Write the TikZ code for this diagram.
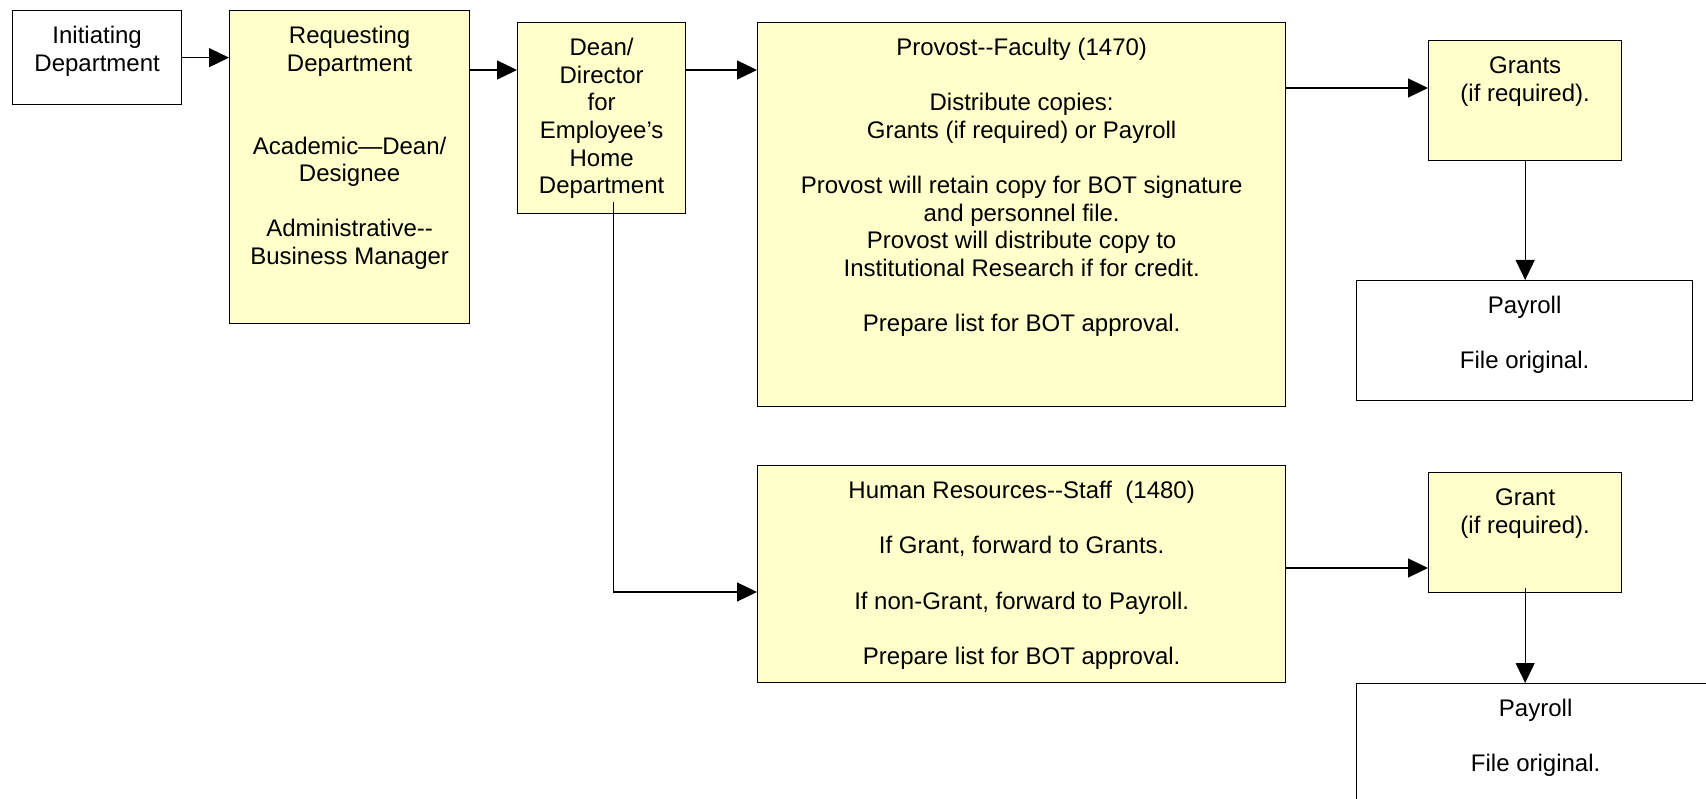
\documentclass[tikz,border=0pt]{standalone}
\usepackage{fontspec}
\setmainfont{Liberation Sans}
\usepackage{tikz}
\usetikzlibrary{arrows.meta}
\definecolor{notefill}{HTML}{FFFFCC}
\newcommand{\twohyph}{-\kern0pt-}
\newcommand{\boxlines}[3]{\parbox[c][#2][t]{#1}{\centering\rule{0pt}{33pt}#3}}
\tikzset{
  plainbox/.style={draw, line width=1.3pt, inner sep=0pt, anchor=north west, fill=white},
  notebox/.style={plainbox, fill=notefill},
  flow/.style={line width=1.2pt, -{Triangle[length=20pt,width=19pt]}}
}

\begin{document}
\begin{tikzpicture}[x=1pt,y=-1pt,every node/.style={font={\fontsize{24}{27.6}\selectfont}}]
    \clip (0,0) rectangle (1706,799);
    \node[plainbox] (init) at (12,10)
      {\boxlines{169pt}{94pt}{Initiating\\Department}};
    \node[notebox] (req) at (229,10)
      {\boxlines{240pt}{313pt}{Requesting\\Department\\~\\~\\Academic—Dean/\\Designee\\~\\Administrative\twohyph\\Business Manager}};
    \node[notebox] (dean) at (517,22)
      {\boxlines{168pt}{191pt}{Dean/\\Director\\for\\Employee’s\\Home\\Department}};
    \node[notebox] (prov) at (757,22)
      {\boxlines{528pt}{384pt}{Provost\twohyph Faculty (1470)\\~\\Distribute copies:\\Grants (if required) or Payroll\\~\\Provost will retain copy for BOT signature\\and personnel file.\\Provost will distribute copy to\\Institutional Research if for credit.\\~\\Prepare list for BOT approval.}};
    \node[notebox] (grants) at (1428,40)
      {\boxlines{193pt}{120pt}{Grants\\(if required).}};
    \node[plainbox] (pay1) at (1356,280)
      {\boxlines{336pt}{120pt}{Payroll\\~\\File original.}};
    \node[notebox] (hr) at (757,465)
      {\boxlines{528pt}{217pt}{Human Resources\twohyph Staff\ \ (1480)\\~\\If Grant, forward to Grants.\\~\\If non-Grant, forward to Payroll.\\~\\Prepare list for BOT approval.}};
    \node[notebox] (grant) at (1428,472)
      {\boxlines{193pt}{120pt}{Grant\\(if required).}};
    \node[plainbox] (pay2) at (1356,683)
      {\boxlines{358pt}{200pt}{Payroll\\~\\File original.}};
    \coordinate (deanin) at ([yshift=-48pt]dean.north west);
    \coordinate (provin) at ([yshift=-48pt]prov.north west);
    \coordinate (grantsin) at ([yshift=-48pt]grants.north west);
    \coordinate (deanout) at ([xshift=12pt,yshift=12pt]dean.south);
    \coordinate (hrin) at ([yshift=-127pt]hr.north west);
    \coordinate (grantin) at ([yshift=-96pt]grant.north west);
    \coordinate (grantout) at ([yshift=5pt]grant.south);
    \draw[flow] (init.east) -- (init.east -| req.west);
    \draw[flow] (req.east |- deanin) -- (deanin);
    \draw[flow] (dean.east |- provin) -- (provin);
    \draw[flow] (prov.east |- grantsin) -- (grantsin);
    \draw[flow] (grants.south) -- (grants.south |- pay1.north);
    \draw[flow] (deanout) |- (hrin);
    \draw[flow] (hr.east |- grantin) -- (grantin);
    \draw[flow] (grantout) -- (grantout |- pay2.north);
\end{tikzpicture}
\end{document}
